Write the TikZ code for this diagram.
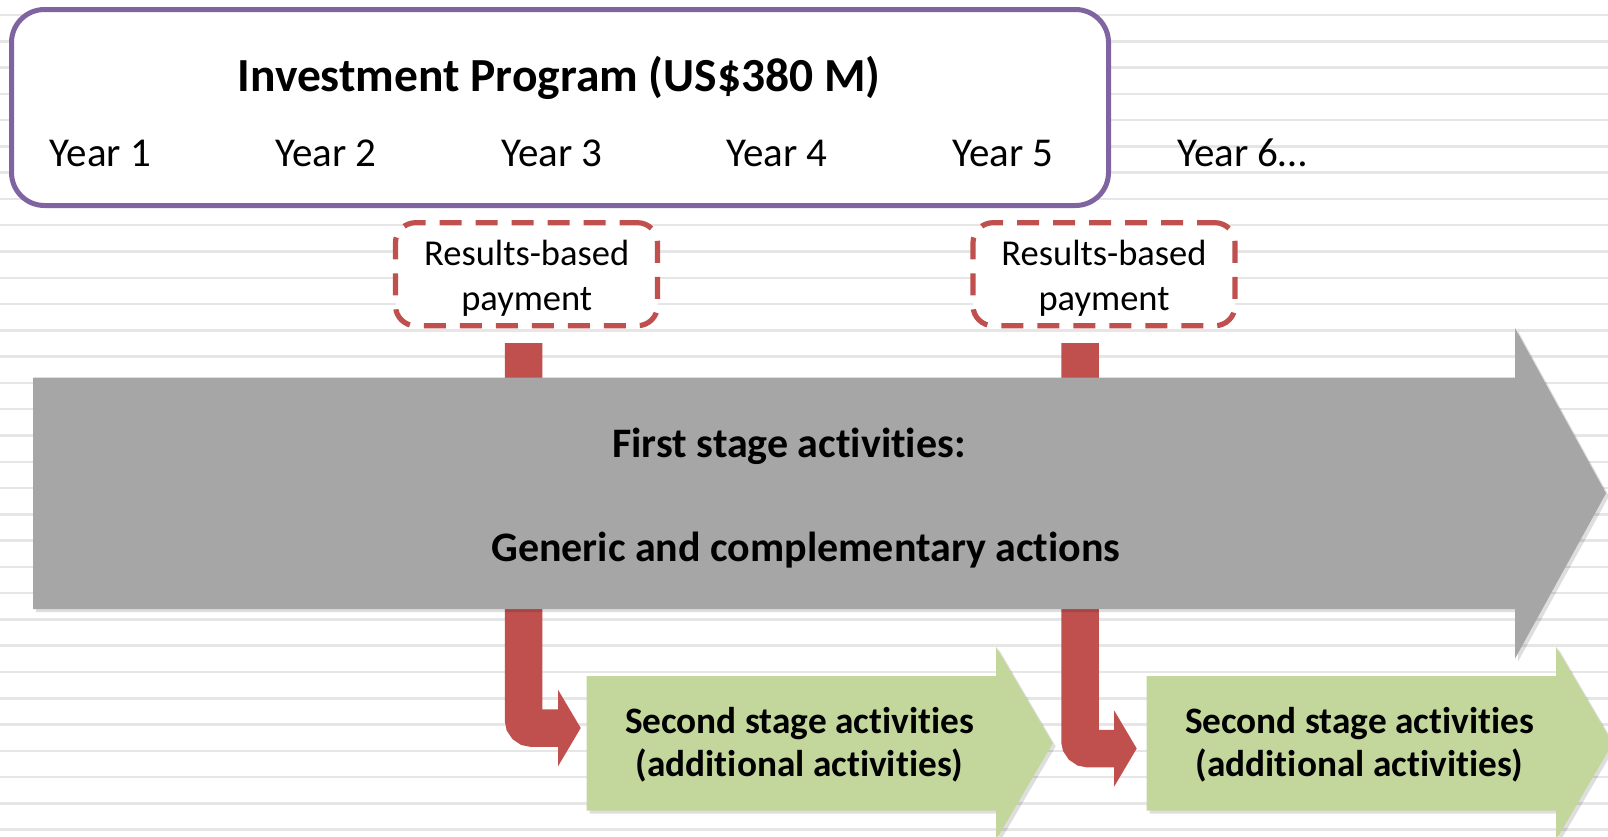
\documentclass[tikz,border=0pt]{standalone}
\usepackage{fontspec}
\setmainfont{Carlito}[Ligatures={NoCommon,NoContextual,NoRequired},Contextuals=NoAlternate]
\usetikzlibrary{arrows.meta}
\definecolor{bgline}{HTML}{E6E6E6}
\definecolor{purp}{HTML}{8064A2}
\definecolor{redc}{HTML}{C0504D}
\definecolor{grayc}{HTML}{A6A6A6}
\definecolor{greenc}{HTML}{C3D69B}
\tikzset{
  yeartext/.style={anchor=base, inner sep=0pt, font=\fontsize{41}{49}\selectfont},
  titletext/.style={anchor=base, inner sep=0pt, font=\bfseries\fontsize{47.5}{56}\selectfont},
  rbtext/.style={anchor=base, inner sep=0pt, font=\fontsize{36.5}{44}\selectfont},
  firsttext/.style={anchor=base, inner sep=0pt, font=\bfseries\fontsize{42}{50}\selectfont},
  secondtext/.style={anchor=base, inner sep=0pt, font=\bfseries\fontsize{37.3}{44}\selectfont},
  progbox/.style={draw=purp, line width=5pt, fill=white, rounded corners=33pt, minimum width=1097pt, minimum height=196pt, inner sep=0pt},
  rbbox/.style={draw=redc, line width=5.2pt, fill=white, rounded corners=20pt, dash pattern=on 22pt off 14pt, dash phase=4pt, minimum width=262pt, minimum height=103pt, inner sep=0pt},
  redconn/.style={draw=redc, line width=37.5pt, rounded corners=8pt, -{Triangle[width=76pt,length=22.5pt,line width=0pt]}},
  shadowfill/.style={fill=black, opacity=0.13},
}
\begin{document}
\begin{tikzpicture}[x=1pt,y=-1pt]
\useasboundingbox (0,0) rectangle (1608,836);
\fill[white] (0,0) rectangle (1608,836);
\foreach \k in {0,...,31} {
  \draw[bgline, line width=2.5pt] (0,15+26.28*\k) -- (1608,15+26.28*\k);
}
% program box
\node[progbox] (prog) at (560,107.5) {};
\node[titletext] (title) at (559,91) {Investment Program (US\$380 M)};
\foreach \i/\x in {1/100.5, 2/326, 3/552, 4/777, 5/1003} {
  \node[yeartext] (year\i) at (\x,166) {Year \i};
}
\node[yeartext, anchor=base west] (year6) at (1177,166) {Year 6…};
% results-based boxes
\node[rbbox] (rb1) at (526.5,274.2) {};
\node[rbtext] (rb1a) at (526.7,265) {Results-based};
\node[rbtext] (rb1b) at (526.7,310) {payment};
\node[rbbox] (rb2) at (1104,274.2) {};
\node[rbtext] (rb2a) at (1104,265) {Results-based};
\node[rbtext] (rb2b) at (1104,310) {payment};
% red connectors (behind the grey arrow)
\coordinate (c1s) at (523.7,343);
\coordinate (c1e) at (580.7,728);
\coordinate (c2s) at (1080,343);
\coordinate (c2e) at (1136.7,748.5);
\draw[redconn] (c1s) |- (c1e);
\draw[redconn] (c2s) |- (c2e);
% grey arrow
\path[shadowfill, shift={(3,3)}] (33,377.7) -- (1515,377.7) -- (1515,328) -- (1606,493.3) -- (1515,658.6) -- (1515,609) -- (33,609) -- cycle;
\fill[grayc] (33,377.7) -- (1515,377.7) -- (1515,328) -- (1606,493.3) -- (1515,658.6) -- (1515,609) -- (33,609) -- cycle;
\node[firsttext] (first1) at (789,457) {First stage activities:};
\node[firsttext] (first2) at (806,561) {Generic and complementary actions};
% green arrows
\foreach \dx/\n in {0/1, 560/2} {
  \begin{scope}[xshift=\dx]
    \path[shadowfill, shift={(3,3)}] (586.7,676) -- (996,676) -- (996,646.7) -- (1052.7,743.3) -- (996,840) -- (996,810.7) -- (586.7,810.7) -- cycle;
    \fill[greenc] (586.7,676) -- (996,676) -- (996,646.7) -- (1052.7,743.3) -- (996,840) -- (996,810.7) -- (586.7,810.7) -- cycle;
    \node[secondtext] (second\n a) at (799.5,733.3) {Second stage activities};
    \node[secondtext] (second\n b) at (799.5,776.7) {(additional activities)};
  \end{scope}
}
\end{tikzpicture}
\end{document}
